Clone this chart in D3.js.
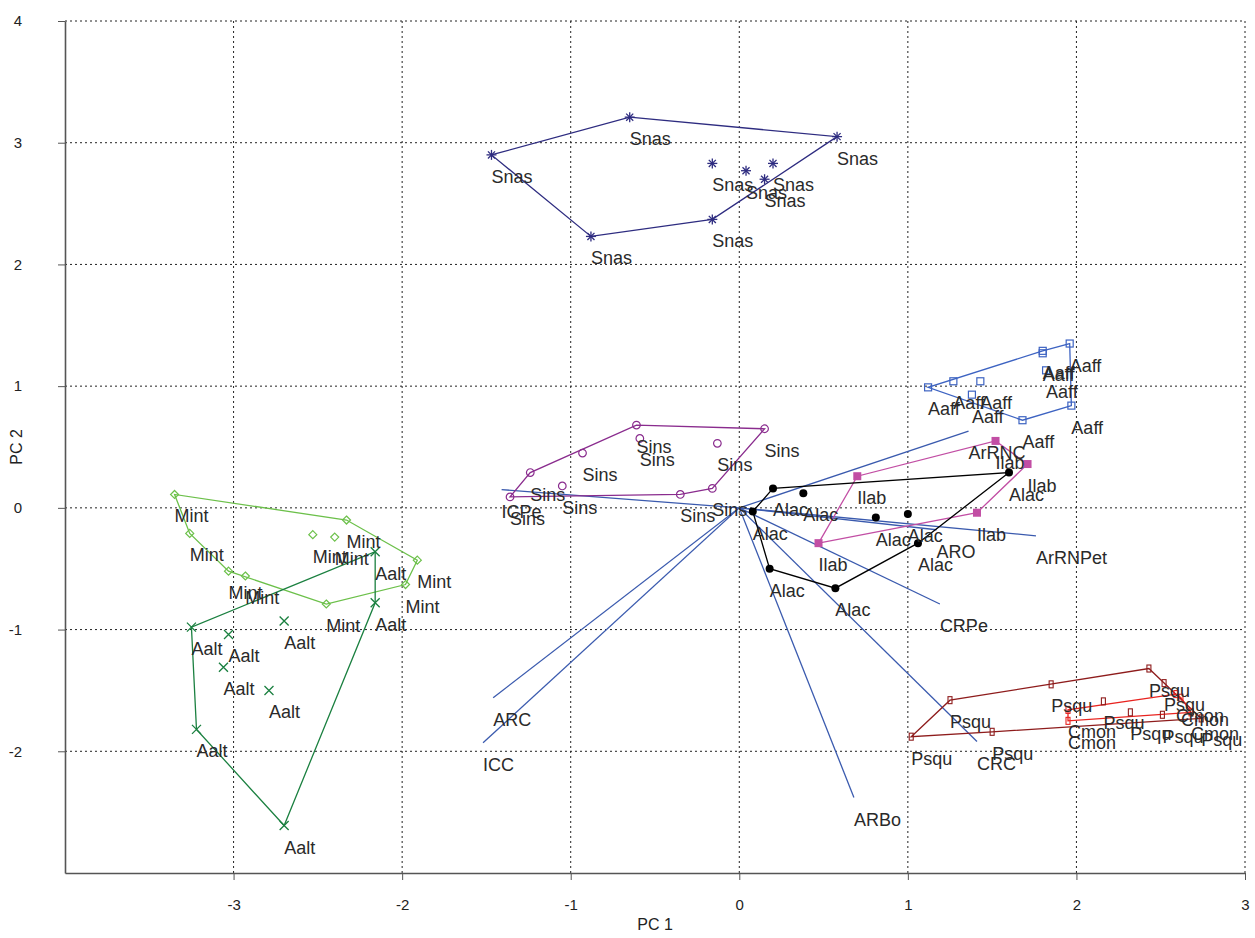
<html>
<head>
<title>PCA biplot</title>
<script src="https://d3js.org/d3.v7.min.js" charset="utf-8"></script>
<style>
body {
	margin: 0;
	background: white;
	font-family: "Liberation Sans", Arial, sans-serif;
}
.tick text { font-family: "Liberation Sans", Arial, sans-serif; }
</style>
</head>
<body>
<script>
// window size
var width = 1255;
var height = 938;

// axis ticks
var xTicks = [-3, -2, -1, 0, 1, 2, 3];
var yTicks = [-2, -1, 0, 1, 2, 3, 4];

// scores [PC1, PC2] per species
var snas = [[-1.47,2.90],[-0.65,3.21],[0.58,3.05],[-0.88,2.23],[-0.16,2.37],[-0.16,2.83],[0.04,2.77],[0.20,2.83],[0.15,2.70]];
var aaff = [[1.12,0.99],[1.27,1.04],[1.43,1.04],[1.38,0.93],[1.68,0.72],[1.80,1.29],[1.80,1.27],[1.82,1.13],[1.96,1.35],[1.97,0.84]];
var ilab = [[1.52,0.55],[1.71,0.36],[0.70,0.26],[1.41,-0.04],[0.47,-0.29]];
var alac = [[0.20,0.16],[0.38,0.12],[0.08,-0.03],[0.81,-0.08],[1.00,-0.05],[1.06,-0.29],[1.60,0.29],[0.18,-0.50],[0.57,-0.66]];
var sins = [[-0.61,0.68],[0.15,0.65],[-0.59,0.57],[-0.13,0.53],[-0.93,0.45],[-1.24,0.29],[-1.05,0.18],[-1.36,0.09],[-0.35,0.11],[-0.16,0.16]];
var mint = [[-3.35,0.11],[-3.26,-0.21],[-3.03,-0.52],[-2.93,-0.56],[-2.53,-0.22],[-2.40,-0.24],[-2.33,-0.10],[-1.91,-0.43],[-1.98,-0.63],[-2.45,-0.79]];
var aalt = [[-2.16,-0.36],[-2.16,-0.78],[-3.25,-0.98],[-3.03,-1.04],[-2.70,-0.93],[-3.06,-1.31],[-2.79,-1.50],[-3.22,-1.82],[-2.70,-2.61]];
var psqu = [[1.02,-1.88],[1.25,-1.58],[1.50,-1.84],[1.85,-1.45],[2.43,-1.32],[2.52,-1.44],[2.16,-1.59],[2.32,-1.68],[2.51,-1.70],[2.74,-1.73]];
var cmon = [[1.95,-1.66],[1.95,-1.75],[2.59,-1.53],[2.62,-1.56],[2.68,-1.68]];

// loading vectors
var vecNames = ["ArRNC", "ICPe", "ArRNPet", "ARO", "CRPe", "CRC", "ARBo", "ARC", "ICC"];
var vecX = [1.36, -1.41, 1.76, 1.17, 1.19, 1.41, 0.68, -1.46, -1.52];
var vecY = [0.63, 0.15, -0.23, -0.18, -0.79, -1.92, -2.38, -1.56, -1.93];

var groups = [
	{ name: "Snas", pts: snas, color: "#2e2c80", shape: "star" },
	{ name: "Aaff", pts: aaff, color: "#3d63c2", shape: "square" },
	{ name: "Ilab", pts: ilab, color: "#c24ea4", shape: "fsquare" },
	{ name: "Alac", pts: alac, color: "#000000", shape: "dot" },
	{ name: "Sins", pts: sins, color: "#8a2c8e", shape: "circle" },
	{ name: "Mint", pts: mint, color: "#6cc04a", shape: "diamond" },
	{ name: "Aalt", pts: aalt, color: "#1b8040", shape: "cross" },
	{ name: "Psqu", pts: psqu, color: "#8e1c1c", shape: "rect" },
	{ name: "Cmon", pts: cmon, color: "#e8231f", shape: "rect" }
];

var x = d3.scaleLinear().domain([-4, 3]).range([65, 1245]);
var y = d3.scaleLinear().domain([-3, 4]).range([873, 21]);

var svg = d3.select("body").append("svg")
	.attr("width", width)
	.attr("height", height);

// dotted grid
var grid = svg.append("g");
grid.selectAll(".gx").data(xTicks).enter().append("line")
	.attr("x1", d => x(d)).attr("x2", d => x(d))
	.attr("y1", y(-3)).attr("y2", y(4))
	.attr("stroke", "#222").attr("stroke-width", 1)
	.attr("stroke-dasharray", "2,3");
grid.selectAll(".gy").data(yTicks).enter().append("line")
	.attr("x1", x(-4)).attr("x2", x(3))
	.attr("y1", d => y(d)).attr("y2", d => y(d))
	.attr("stroke", "#222").attr("stroke-width", 1)
	.attr("stroke-dasharray", "2,3");

// axes, plain hyphen labels
var fmt = d => String(d);
var xAxis = svg.append("g")
	.attr("transform", "translate(0," + y(-3) + ")")
	.call(d3.axisBottom(x).tickValues(xTicks).tickFormat(fmt).tickSize(7).tickSizeOuter(0).tickPadding(19));
var yAxis = svg.append("g")
	.attr("transform", "translate(" + x(-4) + ",0)")
	.call(d3.axisLeft(y).tickValues(yTicks).tickFormat(fmt).tickSize(7).tickSizeOuter(0).tickPadding(36));
[xAxis, yAxis].forEach(function(a) {
	a.select(".domain").attr("stroke", "#555").attr("stroke-width", 1.6);
	a.selectAll(".tick line").attr("stroke", "#555");
	a.selectAll(".tick text").attr("font-size", 15).attr("fill", "#222");
});

svg.append("text")
	.attr("x", (x(-4) + x(3)) / 2).attr("y", 930)
	.attr("text-anchor", "middle").attr("font-size", 16).attr("fill", "#222")
	.text("PC 1");
svg.append("text")
	.attr("transform", "translate(22," + y(0.5) + ") rotate(-90)")
	.attr("text-anchor", "middle").attr("font-size", 16).attr("fill", "#222")
	.text("PC 2");

// loading vectors
var vec = svg.append("g");
vecNames.forEach(function(n, i) {
	vec.append("line")
		.attr("x1", x(0)).attr("y1", y(0))
		.attr("x2", x(vecX[i])).attr("y2", y(vecY[i]))
		.attr("stroke", "#3a5aae").attr("stroke-width", 1.3);
});

// convex hulls
var hulls = svg.append("g");
groups.forEach(function(g) {
	var hull = d3.polygonHull(g.pts);
	hulls.append("path")
		.attr("d", "M" + hull.map(p => x(p[0]) + "," + y(p[1])).join("L") + "Z")
		.attr("fill", "none")
		.attr("stroke", g.color)
		.attr("stroke-width", 1.3);
});

// markers
function marker(sel, shape, color) {
	if (shape == "star") {
		[0, 45, 90, 135].forEach(function(a) {
			var r = 5, c = Math.cos(a * Math.PI / 180) * r, s = Math.sin(a * Math.PI / 180) * r;
			sel.append("line").attr("x1", -c).attr("y1", -s).attr("x2", c).attr("y2", s)
				.attr("stroke", color).attr("stroke-width", 1.3);
		});
	} else if (shape == "square") {
		sel.append("rect").attr("x", -3.5).attr("y", -3.5).attr("width", 7).attr("height", 7)
			.attr("fill", "none").attr("stroke", color).attr("stroke-width", 1.2);
	} else if (shape == "fsquare") {
		sel.append("rect").attr("x", -4).attr("y", -4).attr("width", 8).attr("height", 8)
			.attr("fill", color);
	} else if (shape == "dot") {
		sel.append("circle").attr("r", 4).attr("fill", color);
	} else if (shape == "circle") {
		sel.append("circle").attr("r", 3.8).attr("fill", "none").attr("stroke", color).attr("stroke-width", 1.2);
	} else if (shape == "diamond") {
		sel.append("path").attr("d", "M0,-4L4,0L0,4L-4,0Z")
			.attr("fill", "none").attr("stroke", color).attr("stroke-width", 1.2);
	} else if (shape == "cross") {
		sel.append("path").attr("d", "M-4.5,-4.5L4.5,4.5M-4.5,4.5L4.5,-4.5")
			.attr("stroke", color).attr("stroke-width", 1.3);
	} else if (shape == "rect") {
		sel.append("rect").attr("x", -2).attr("y", -3.5).attr("width", 4).attr("height", 7)
			.attr("fill", "none").attr("stroke", color).attr("stroke-width", 1.1);
	}
}

var marks = svg.append("g");
groups.forEach(function(g) {
	g.pts.forEach(function(p) {
		var m = marks.append("g").attr("transform", "translate(" + x(p[0]) + "," + y(p[1]) + ")");
		marker(m, g.shape, g.color);
	});
});

// labels
var labels = svg.append("g")
	.attr("font-size", 18)
	.attr("fill", "#2a2a2a");
groups.forEach(function(g) {
	g.pts.forEach(function(p) {
		labels.append("text")
			.attr("x", x(p[0])).attr("y", y(p[1]) + 28)
			.text(g.name);
	});
});
vecNames.forEach(function(n, i) {
	labels.append("text")
		.attr("x", x(vecX[i])).attr("y", y(vecY[i]) + 28)
		.text(n);
});
</script>
</body>
</html>
